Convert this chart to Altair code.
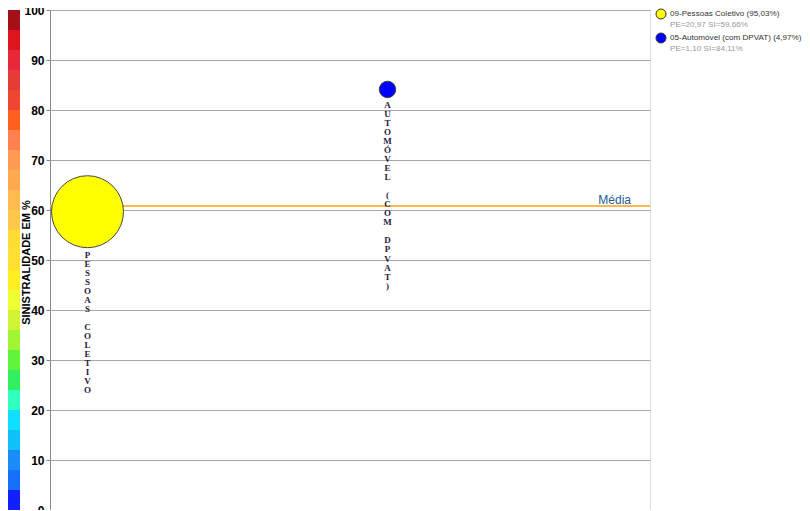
import altair as alt
import pandas as pd

# ---- data ----
categorias = ["09-Pessoas Coletivo", "05-Automóvel (com DPVAT)"]
rotulos = ["PESSOAS COLETIVO", "AUTOMÓVEL (COM DPVAT)"]
participacao = ["95,03%", "4,97%"]
pe = [20.97, 1.10]
pe_txt = ["20,97", "1,10"]
si = [59.66, 84.11]
si_txt = ["59,66%", "84,11%"]
posicao = [1, 9]
cores = ["#FFFF00", "#0000FF"]
media = [60.8]

faixa_inicio = list(range(0, 100, 4))
faixa_cores = [
    "#1020FF", "#1870F8", "#1A8CF8", "#10C0F8", "#10E0FF",
    "#30FFC0", "#30F060", "#60F53A", "#A0F535", "#D0F535",
    "#EEFF33", "#FFEE22", "#FFE030", "#FFDD33", "#FFC84A",
    "#FFBA50", "#FFAA50", "#FF9A55", "#FF8050", "#FF6020",
    "#F04530", "#E53C38", "#E8283A", "#E0141E", "#A50F1A",
]

df = pd.DataFrame({
    "categoria": categorias,
    "part": participacao,
    "pe": pe,
    "si": si,
    "posicao": posicao,
    "cor": cores,
    "ordem": list(range(len(categorias))),
    "legenda1": [f"{c} ({p})" for c, p in zip(categorias, participacao)],
    "legenda2": [f"PE={a} SI={b}" for a, b in zip(pe_txt, si_txt)],
})

# vertical labels: one row per character
letras = []
for r, p, s, x in zip(rotulos, pe, si, posicao):
    for i, ch in enumerate(r):
        letras.append({"letra": ch, "i": i, "pe": p, "si": s, "posicao": x})
df_letras = pd.DataFrame(letras)

faixas = pd.DataFrame({
    "ini": faixa_inicio,
    "fim": [v + 4 for v in faixa_inicio],
    "cor": faixa_cores,
})
med = pd.DataFrame({"media": media})

W, H = 600, 500
SIZE_MAX = 5190
LINE = 9.05
yscale = alt.Scale(domain=[0, 100])
xscale = alt.Scale(domain=[0, 16])

yaxis = alt.Axis(
    values=list(range(0, 101, 10)),
    title="SINISTRALIDADE EM %",
    titleFont="Liberation Sans", titleFontSize=11, titleFontWeight="bold",
    titleColor="#000000", titleAngle=-90, titleX=-24, titleY=252,
    titleAlign="center", titleBaseline="middle",
    labelFont="Liberation Sans", labelFontSize=12, labelFontWeight="bold",
    labelColor="#000000", labelPadding=2,
    tickSize=4, tickColor="#888888", domainColor="#888888",
    grid=True, gridColor="#A8A8A8", gridWidth=1,
)

barra = alt.Chart(faixas).mark_rect().encode(
    x=alt.value(-50), x2=alt.value(-30),
    y=alt.Y("ini:Q", scale=yscale, axis=yaxis),
    y2="fim:Q",
    color=alt.Color("cor:N", scale=None),
)

linha_media = alt.Chart(med).mark_rule(color="#FFB74D", strokeWidth=2).encode(
    y=alt.Y("media:Q", scale=yscale),
)
texto_media = alt.Chart(med).mark_text(
    text="Média", align="right", baseline="alphabetic", dy=-2,
    font="Liberation Sans", fontSize=12, color="#1F5A96",
).encode(
    x=alt.value(581),
    y=alt.Y("media:Q", scale=yscale),
)

bolhas = alt.Chart(df).mark_point(
    filled=True, opacity=1, stroke="#444444", strokeWidth=1, shape="circle",
).encode(
    x=alt.X("posicao:Q", scale=xscale, axis=None),
    y=alt.Y("si:Q", scale=yscale),
    size=alt.Size("pe:Q", scale=alt.Scale(domain=[0, 21], range=[0, SIZE_MAX]), legend=None),
    color=alt.Color("cor:N", scale=None),
)

# each letter placed below the bubble: radius (px) + gap + line index, in data units
rotulos_v = alt.Chart(df_letras).transform_calculate(
    yt=f"datum.si - (sqrt(datum.pe*{SIZE_MAX}/21)/2 + 7 + datum.i*{LINE}) * 100 / {H}"
).mark_text(
    align="center", baseline="middle",
    font="Liberation Serif", fontSize=9, fontWeight="bold", color="#1E1E3C",
).encode(
    x=alt.X("posicao:Q", scale=xscale),
    y=alt.Y("yt:Q", scale=yscale),
    text="letra:N",
)

leg_base = alt.Chart(df).transform_calculate(
    ly="datum.ordem*24+4", ly2="datum.ordem*24+15"
)
leg_circ = leg_base.mark_point(
    filled=True, opacity=1, shape="circle", size=100, stroke="#333333", strokeWidth=1,
).encode(
    x=alt.value(611),
    y=alt.Y("ly:Q", scale=None, axis=None),
    color=alt.Color("cor:N", scale=None),
)
leg_txt1 = leg_base.mark_text(
    align="left", baseline="middle", font="Liberation Sans", fontSize=8.1, color="#333333",
).encode(
    x=alt.value(620),
    y=alt.Y("ly:Q", scale=None, axis=None),
    text="legenda1:N",
)
leg_txt2 = leg_base.mark_text(
    align="left", baseline="middle", font="Liberation Sans", fontSize=8.1, color="#999999",
).encode(
    x=alt.value(620),
    y=alt.Y("ly2:Q", scale=None, axis=None),
    text="legenda2:N",
)

chart = alt.layer(
    barra, linha_media, texto_media, bolhas, rotulos_v, leg_circ, leg_txt1, leg_txt2
).properties(
    width=W, height=H,
    autosize=alt.AutoSizeParams(type="none"),
    padding={"left": 42, "top": 2, "right": 152, "bottom": 0},
).configure_view(
    stroke="#888888", strokeWidth=1,
).configure(background="#FFFFFF")

chart.save("out.html", embed_options={"renderer": "svg", "actions": False})
